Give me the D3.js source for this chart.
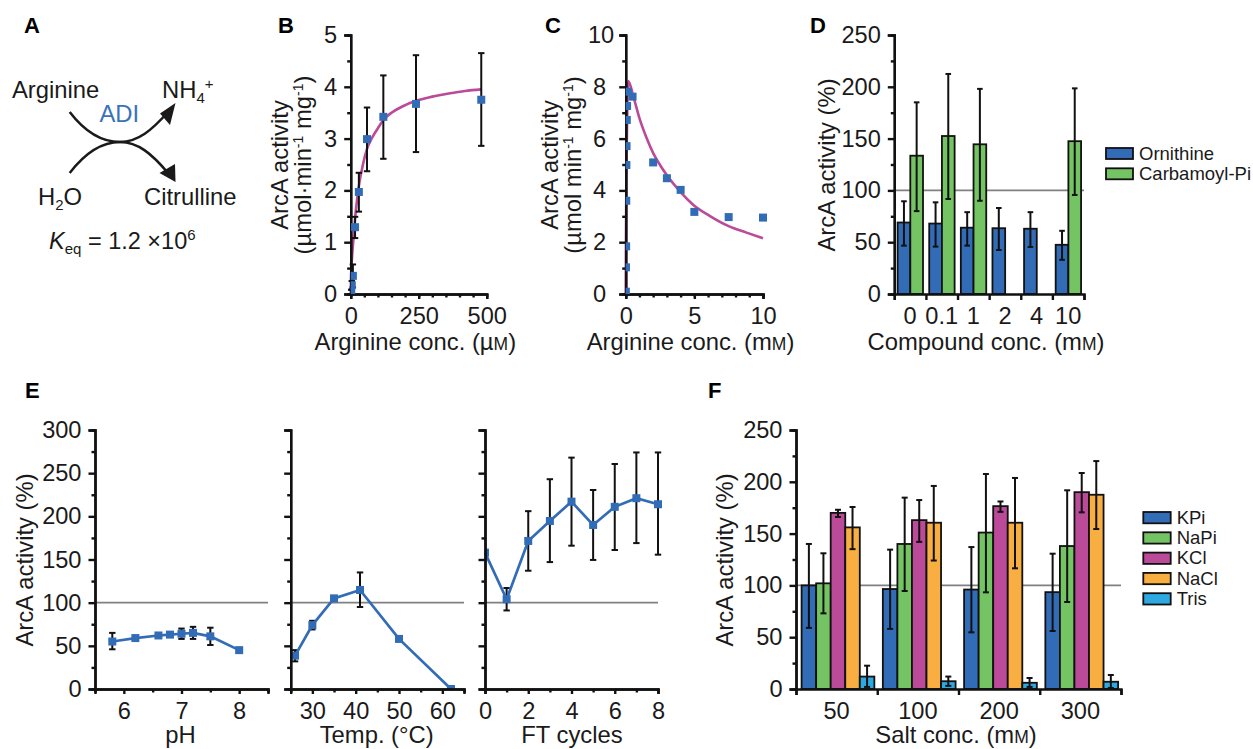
<!DOCTYPE html>
<html>
<head>
<meta charset="utf-8">
<script src="https://cdnjs.cloudflare.com/ajax/libs/d3/7.8.5/d3.min.js"></script>
<style>
  html, body { margin: 0; padding: 0; background: #fff; }
  text { font-family: "Liberation Sans", Arial, sans-serif; fill: #1a1a1a; }
</style>
</head>
<body>
<div id="chart"></div>
<script>
// panel B: arginine dependence
const bConc = [480, 240, 120, 60, 30, 16, 8, 4, 2];
const bActivity = [3.75, 3.67, 3.42, 2.99, 1.97, 1.29, 0.35, 0.17, 0.04];
const bErrHigh = [4.65, 4.61, 4.22, 3.6, 2.34, 1.49, 0.57, 0.25, 0.08];
const bErrLow = [2.86, 2.74, 2.61, 2.37, 1.59, 1.08, 0.13, 0.09, 0];
const bFitX = [0, 1, 3, 6, 10, 16, 24, 32, 45, 60, 80, 100, 120, 150, 190, 240, 300, 360, 420, 480];
const bFitY = [0, 0.3, 0.55, 0.8, 1.05, 1.45, 1.85, 2.15, 2.5, 2.8, 3.03, 3.2, 3.36, 3.5, 3.62, 3.73, 3.81, 3.87, 3.92, 3.95];

// panel C: arginine inhibition
const cConc = [0.01, 0.02, 0.03, 0.04, 0.05, 0.06, 0.08, 0.1, 0.15, 0.5, 2, 3, 4, 5, 7.5, 10];
const cActivity = [0.09, 1.03, 1.84, 3.6, 4.98, 5.71, 6.72, 7.26, 7.81, 7.62, 5.08, 4.47, 4.02, 3.17, 2.97, 2.95];
const cFitX = [0, 0.02, 0.05, 0.1, 0.19, 0.56, 1.04, 1.53, 2.01, 2.5, 2.99, 3.96, 4.93, 6.14, 7.5, 8.8, 10];
const cFitY = [0, 2.2, 4.6, 6.6, 8.22, 7.62, 6.72, 6.01, 5.43, 4.98, 4.59, 3.95, 3.44, 3.01, 2.62, 2.37, 2.15];

// panel D: compounds
const dCategories = ["0", "0.1", "1", "2", "4", "10"];
const dOrnithine = [69, 68, 64, 63.5, 63, 47.5];
const dOrnithineHigh = [89.5, 88.5, 79, 83, 79, 61];
const dOrnithineLow = [46.7, 45.7, 46.7, 42.5, 45.4, 33];
const dCarbamoyl = [133.5, 152.5, 144.5, null, null, 147.5];
const dCarbamoylHigh = [185, 212.4, 198, null, null, 198.5];
const dCarbamoylLow = [80, 91.7, 90, null, null, 95.6];
const dSeries = ["Ornithine", "Carbamoyl-Pi"];

// panel E: pH, temperature, freeze-thaw
const phX = [5.8, 6.2, 6.6, 6.8, 7, 7.2, 7.5, 8];
const phY = [55, 59, 62, 63, 64, 65, 61, 45];
const phHigh = [65, 61, 64, 65, 70, 72, 71, 47];
const phLow = [46, 57, 60, 61, 58, 58, 51, 43];
const tempX = [26, 30, 35, 41, 50, 62];
const tempY = [38.6, 74, 105, 114.7, 58, 0];
const tempHigh = [45, 79, 107, 135, 60, 0];
const tempLow = [32, 69, 103, 95, 56, 0];
const ftX = [0, 1, 2, 3, 4, 5, 6, 7, 8];
const ftY = [158, 104, 171.5, 194.6, 217, 190, 211, 221, 214];
const ftHigh = [158, 117, 206, 243, 268, 230.5, 260.6, 274, 274];
const ftLow = [158, 91, 137, 147, 166, 149.5, 161, 169, 155.6];

// panel F: salts
const fCategories = ["50", "100", "200", "300"];
const fSeries = ["KPi", "NaPi", "KCl", "NaCl", "Tris"];
const fKPi = [100, 96.5, 96, 93.5];
const fKPiHigh = [140, 134.5, 137, 130.6];
const fKPiLow = [59, 58, 54.7, 56];
const fNaPi = [102, 140, 151, 138];
const fNaPiHigh = [131, 184.7, 207.5, 191.8];
const fNaPiLow = [73, 94.6, 93.3, 84];
const fKCl = [170, 163, 176.5, 190];
const fKClHigh = [173, 182.4, 181, 208.5];
const fKClLow = [166, 142, 171, 170.5];
const fNaCl = [156, 160.5, 160.5, 187.5];
const fNaClHigh = [175.7, 196, 203.7, 220];
const fNaClLow = [135, 124, 116.5, 154.4];
const fTris = [12, 7.5, 6, 7];
const fTrisHigh = [22.5, 12, 10.6, 13.5];
const fTrisLow = [2, 3, 2, 1];

// colours
const blue = "#326cb6", green = "#75c464", magenta = "#bb4a98", orange = "#f9ae42", cyan = "#2ea8e0";
const grey = "#808080", ink = "#111111";
const tickFont = 23.6, titleFont = 23.8;

const svg = d3.select("#chart").append("svg")
    .attr("width", 1253).attr("height", 749)
    .style("display", "block");

// text with sub/superscripts: segs are [string, {size, rise, italic, fill}]
function richText(x, y, size, segs, rotate) {
    const t = svg.append("text").attr("font-size", size);
    if (rotate) {
        t.attr("transform", "translate(" + x + "," + y + ") rotate(-90)").attr("text-anchor", "middle");
    } else {
        t.attr("x", x).attr("y", y);
    }
    let rise = 0;
    segs.forEach(function (s) {
        const o = s[1] || {};
        const next = o.rise || 0;
        const span = t.append("tspan").text(s[0]).attr("dy", rise - next);
        if (o.size) span.attr("font-size", o.size);
        if (o.italic) span.attr("font-style", "italic");
        if (o.fill) span.style("fill", o.fill);
        rise = next;
    });
    return t;
}

function centered(t) { return t.attr("text-anchor", "middle"); }

function panelLetter(label, x, y) {
    svg.append("text").attr("x", x).attr("y", y)
        .attr("font-size", 22).attr("font-weight", "bold").style("fill", "#000").text(label);
}

// y axis with labelled majors and shorter minors
function yAxis(scale, x, majors, minors, showLabels, padding) {
    const g = svg.append("g").attr("transform", "translate(" + x + ",0)");
    g.append("g").call(d3.axisLeft(scale).tickValues(minors).tickSize(3.5).tickFormat(""));
    const major = g.append("g").call(d3.axisLeft(scale).tickValues(majors).tickSize(6.5).tickPadding(padding || 7)
        .tickFormat(showLabels === false ? "" : d3.format("")));
    g.selectAll("path, line").attr("stroke", ink).attr("stroke-width", 2.4);
    major.selectAll("text").attr("font-size", tickFont).attr("font-family", null);
    return major;
}

// x axis with labelled majors and shorter minors
function xAxis(scale, y, majors, minors, labels) {
    const g = svg.append("g").attr("transform", "translate(0," + y + ")");
    g.append("g").call(d3.axisBottom(scale).tickValues(minors).tickSize(3.5).tickFormat(""));
    const major = g.append("g").call(d3.axisBottom(scale).tickValues(majors).tickSize(5).tickPadding(8)
        .tickFormat(d => labels.includes(d) ? d : ""));
    g.selectAll("path, line").attr("stroke", ink).attr("stroke-width", 2.4);
    major.selectAll("text").attr("font-size", tickFont).attr("font-family", null);
}

// bar-chart x axis: category labels plus ticks on the group boundaries
function groupAxis(categories, band, left, right, y) {
    const edges = d3.scaleLinear().domain([0, categories.length]).range([left, right]);
    const g = svg.append("g").attr("transform", "translate(0," + y + ")");
    g.append("g").call(d3.axisBottom(edges).tickValues(d3.range(categories.length + 1)).tickSize(6).tickFormat(""));
    const lab = g.append("g").call(d3.axisBottom(band).tickSize(0).tickPadding(13.5));
    lab.select("path").remove();
    lab.selectAll("line").remove();
    g.selectAll("path, line").attr("stroke", ink).attr("stroke-width", 2.4);
    lab.selectAll("text").attr("font-size", tickFont).attr("font-family", null);
}

function refLine(yScale, x0, x1) {
    svg.append("line").attr("x1", x0).attr("x2", x1)
        .attr("y1", yScale(100)).attr("y2", yScale(100))
        .attr("stroke", grey).attr("stroke-width", 1.8);
}

function errorBars(xs, high, low, x, y, cap) {
    const g = svg.append("g").attr("stroke", ink).attr("stroke-width", 2);
    xs.forEach(function (v, i) {
        if (high[i] === null || high[i] === low[i]) return;
        const cx = x(v, i);
        g.append("line").attr("x1", cx).attr("x2", cx).attr("y1", y(high[i])).attr("y2", y(low[i]));
        g.append("line").attr("x1", cx - cap).attr("x2", cx + cap).attr("y1", y(high[i])).attr("y2", y(high[i]));
        g.append("line").attr("x1", cx - cap).attr("x2", cx + cap).attr("y1", y(low[i])).attr("y2", y(low[i]));
    });
}

// square markers, clipped at the axes like the original
let clipCount = 0;
function markers(xs, ys, x, y) {
    clipCount++;
    const id = "clip" + clipCount;
    const xr = x.range(), yr = y.range();
    svg.append("clipPath").attr("id", id).append("rect")
        .attr("x", xr[0]).attr("y", yr[1] - 10)
        .attr("width", xr[1] - xr[0] + 10).attr("height", yr[0] - yr[1] + 10);
    svg.append("g").attr("clip-path", "url(#" + id + ")")
        .selectAll("rect").data(xs).enter().append("rect")
        .attr("x", d => x(d) - 4)
        .attr("y", (d, i) => y(ys[i]) - 4)
        .attr("width", 8).attr("height", 8)
        .attr("fill", blue);
}

function fitLine(xs, ys, x, y) {
    const line = d3.line().x(d => x(d)).y((d, i) => y(ys[i])).curve(d3.curveMonotoneX);
    svg.append("path").attr("d", line(xs)).attr("fill", "none")
        .attr("stroke", magenta).attr("stroke-width", 2.6);
}

function legend(names, colors, x, yTop, step, w, h, font) {
    names.forEach(function (n, i) {
        const yy = yTop + i * step;
        svg.append("rect").attr("x", x).attr("y", yy).attr("width", w).attr("height", h)
            .attr("fill", colors[i]).attr("stroke", ink).attr("stroke-width", 1.8);
        svg.append("text").attr("x", x + w + 6).attr("y", yy + h + 0.5)
            .attr("font-size", font).text(n);
    });
}

// ---- panel A: reaction scheme
panelLetter("A", 24, 33);
richText(12, 98, 23.8, [["Arginine"]]);
richText(162, 98, 23.8, [["NH"], ["4", {size: 15, rise: -5}], ["+", {size: 15, rise: 9}]]);
richText(99.5, 122, 23.8, [["ADI", {fill: "#3a72ba"}]]);
richText(38, 205, 23.8, [["H"], ["2", {size: 15, rise: -5}], ["O"]]);
richText(144, 205, 23.8, [["Citrulline"]]);
richText(49, 249, 23.5, [["K", {italic: true}], ["eq", {size: 15, rise: -5}], [" = 1.2 ×10"], ["6", {size: 15, rise: 9}]]);

const schemeTop = d3.path();
schemeTop.moveTo(69.7, 112);
schemeTop.bezierCurveTo(85, 132, 102, 142, 120, 142);
schemeTop.bezierCurveTo(138, 142, 152, 130, 168, 112);
const schemeBottom = d3.path();
schemeBottom.moveTo(69.7, 173);
schemeBottom.bezierCurveTo(85, 153, 102, 142, 120, 142);
schemeBottom.bezierCurveTo(138, 142, 152, 154, 168, 173);
[schemeTop, schemeBottom].forEach(function (p) {
    svg.append("path").attr("d", p.toString()).attr("fill", "none").attr("stroke", "#1a1a1a").attr("stroke-width", 2.5);
});
svg.append("path").attr("d", "M175.5,103 L160,113.5 L170,125 Z").attr("fill", "#1a1a1a");
svg.append("path").attr("d", "M175.5,182 L159.5,173 L175,164 Z").attr("fill", "#1a1a1a");

// ---- panel B
panelLetter("B", 278, 33);
const bx = d3.scaleLinear().domain([0, 500]).range([350.7, 486.7]);
const by = d3.scaleLinear().domain([0, 5]).range([294, 35]);
fitLine(bFitX, bFitY, bx, by);
errorBars(bConc, bErrHigh, bErrLow, d => bx(d), by, 3.2);
yAxis(by, bx(0), [0, 1, 2, 3, 4, 5], [0.5, 1.5, 2.5, 3.5, 4.5]);
xAxis(bx, by(0), [0, 250, 500], d3.range(50, 500, 50), [0, 250, 500]);
markers(bConc, bActivity, bx, by);
richText(288, 165, titleFont, [["ArcA activity"]], true);
richText(311, 165, titleFont, [["(µmol·min"], ["-1", {size: 14, rise: 8}], [" mg"], ["-1", {size: 14, rise: 8}], [")"]], true);
centered(richText(415.3, 350, titleFont, [["Arginine conc. (µ"], ["M", {size: 17.5}], [")"]]));

// ---- panel C
panelLetter("C", 545, 33);
const cx = d3.scaleLinear().domain([0, 10]).range([625.7, 763]);
const cy = d3.scaleLinear().domain([0, 10]).range([294, 35]);
fitLine(cFitX, cFitY, cx, cy);
const cMajor = yAxis(cy, cx(0), [0, 2, 4, 6, 8, 10], [1, 3, 5, 7, 9], true, 13);
cMajor.selectAll("text").filter(d => d === 10).attr("dx", 8);
xAxis(cx, cy(0), [0, 5, 10], d3.range(1, 11), [0, 5, 10]);
markers(cConc, cActivity, cx, cy);
richText(558, 165, titleFont, [["ArcA activity"]], true);
richText(581, 165, titleFont, [["(µmol min"], ["-1", {size: 14, rise: 8}], [" mg"], ["-1", {size: 14, rise: 8}], [")"]], true);
centered(richText(690.5, 350, titleFont, [["Arginine conc. (m"], ["M", {size: 17.5}], [")"]]));

// ---- panel D
panelLetter("D", 810, 33);
const dLeft = 894.3, dRight = 1084;
const dBand = d3.scaleBand().domain(dCategories).range([dLeft, dRight]);
const dy = d3.scaleLinear().domain([0, 250]).range([294, 35]);
const dBarW = 12.7, dPad = 3.3;
refLine(dy, dLeft, dRight);
[[dOrnithine, blue, 0], [dCarbamoyl, green, 1]].forEach(function (s) {
    svg.append("g").attr("stroke", ink).attr("stroke-width", 1.8).attr("fill", s[1])
        .selectAll("rect").data(s[0]).enter().append("rect")
        .attr("display", d => d === null ? "none" : null)
        .attr("x", (d, i) => dBand(dCategories[i]) + dPad + s[2] * dBarW)
        .attr("y", d => dy(d || 0))
        .attr("width", dBarW)
        .attr("height", d => dy(0) - dy(d || 0));
});
errorBars(dOrnithine, dOrnithineHigh, dOrnithineLow, (d, i) => dBand(dCategories[i]) + dPad + dBarW / 2, dy, 2.8);
errorBars(dCarbamoyl, dCarbamoylHigh, dCarbamoylLow, (d, i) => dBand(dCategories[i]) + dPad + dBarW * 1.5, dy, 2.8);
yAxis(dy, dLeft, [0, 50, 100, 150, 200, 250], [25, 75, 125, 175, 225]);
groupAxis(dCategories, dBand, dLeft, dRight, dy(0));
legend(dSeries, [blue, green], 1106, 148, 20.3, 27, 11, 18.5);
richText(835, 165, titleFont, [["ArcA activity (%)"]], true);
centered(richText(986, 350, titleFont, [["Compound conc. (m"], ["M", {size: 17.5}], [")"]]));

// ---- panel E
panelLetter("E", 25, 398);
const ey = d3.scaleLinear().domain([0, 300]).range([689, 430]);
const eMajors = [0, 50, 100, 150, 200, 250, 300], eMinors = [25, 75, 125, 175, 225, 275];
const ePanels = [
    {x: d3.scaleLinear().domain([5.5, 8.5]).range([95, 268]), xs: phX, ys: phY, hi: phHigh, lo: phLow,
        majors: [6, 7, 8], minors: [5.5, 6.5, 7.5, 8.5], labels: [6, 7, 8], title: "pH", cx: 180.5, show: true},
    {x: d3.scaleLinear().domain([25, 65]).range([290.7, 464]), xs: tempX, ys: tempY, hi: tempHigh, lo: tempLow,
        majors: [30, 40, 50, 60], minors: [25, 35, 45, 55, 65], labels: [30, 40, 50, 60], title: "Temp. (°C)", cx: 376.7, show: false},
    {x: d3.scaleLinear().domain([0, 8]).range([485, 658]), xs: ftX, ys: ftY, hi: ftHigh, lo: ftLow,
        majors: [0, 2, 4, 6, 8], minors: [1, 3, 5, 7], labels: [0, 2, 4, 6, 8], title: "FT cycles", cx: 572, show: false}
];
ePanels.forEach(function (p) {
    refLine(ey, p.x.range()[0], p.x.range()[1]);
    errorBars(p.xs, p.hi, p.lo, d => p.x(d), ey, 3.2);
    const line = d3.line().x(d => p.x(d)).y((d, i) => ey(p.ys[i]));
    svg.append("path").attr("d", line(p.xs)).attr("fill", "none").attr("stroke", blue).attr("stroke-width", 2.7);
    markers(p.xs, p.ys, p.x, ey);
    yAxis(ey, p.x.range()[0], eMajors, eMinors, p.show);
    xAxis(p.x, ey(0), p.majors, p.minors, p.labels);
    // kept a little high so descenders stay inside the page
    centered(richText(p.cx, 743.4, titleFont, [[p.title]]));
});
richText(33, 560, titleFont, [["ArcA activity (%)"]], true);

// ---- panel F
panelLetter("F", 708, 398);
const fLeft = 796, fRight = 1121;
const fBand = d3.scaleBand().domain(fCategories).range([fLeft, fRight]);
const fy = d3.scaleLinear().domain([0, 250]).range([689, 430]);
const fBarW = 14.55, fPad = 5.6;
const fValues = [fKPi, fNaPi, fKCl, fNaCl, fTris];
const fHighs = [fKPiHigh, fNaPiHigh, fKClHigh, fNaClHigh, fTrisHigh];
const fLows = [fKPiLow, fNaPiLow, fKClLow, fNaClLow, fTrisLow];
const fColors = [blue, green, magenta, orange, cyan];
refLine(fy, fLeft, fRight);
fValues.forEach(function (vals, s) {
    svg.append("g").attr("stroke", ink).attr("stroke-width", 1.8).attr("fill", fColors[s])
        .selectAll("rect").data(vals).enter().append("rect")
        .attr("x", (d, i) => fBand(fCategories[i]) + fPad + s * fBarW)
        .attr("y", d => fy(d))
        .attr("width", fBarW)
        .attr("height", d => fy(0) - fy(d));
});
fValues.forEach(function (vals, s) {
    errorBars(vals, fHighs[s], fLows[s], (d, i) => fBand(fCategories[i]) + fPad + (s + 0.5) * fBarW, fy, 3);
});
yAxis(fy, fLeft, [0, 50, 100, 150, 200, 250], [25, 75, 125, 175, 225]);
groupAxis(fCategories, fBand, fLeft, fRight, fy(0));
legend(fSeries, fColors, 1143.3, 512, 20.3, 27.4, 11.3, 18.5);
richText(733, 560, titleFont, [["ArcA activity (%)"]], true);
centered(richText(956, 743.4, titleFont, [["Salt conc. (m"], ["M", {size: 17.5}], [")"]]));
</script>
</body>
</html>
